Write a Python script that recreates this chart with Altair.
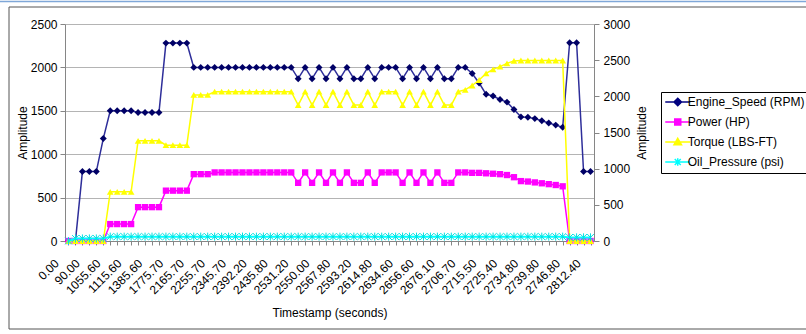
import json

import altair as alt
import pandas as pd

# Category labels shown on every third sample along the time axis
TIME_LABELS = [
    "0.00", "90.00", "1055.60", "1115.60", "1385.60", "1775.70", "2165.70",
    "2255.70", "2345.70", "2392.20", "2435.80", "2531.20", "2550.00", "2567.80",
    "2593.20", "2614.80", "2634.60", "2656.60", "2676.10", "2706.70", "2715.50",
    "2725.40", "2734.80", "2739.80", "2746.80", "2812.40",
]

H, L = 2000, 1870
ENGINE_SPEED = (
    [0, 0, 800, 800, 800, 1180, 1500, 1500, 1500, 1500, 1480, 1480, 1480, 1480,
     2280, 2280, 2280, 2280]
    + [2000] * 15
    + [L, H, L, H, L, H, L, H, L, L, H, L, H, H, H, L, H, L, H, L, H, L, L, H, H]
    + [1930, 1820, 1690, 1670, 1630, 1600, 1515, 1430, 1425, 1410, 1385, 1360,
       1335, 1310, 2285, 2285, 800, 800]
)

PH, PL = 790, 670
POWER = (
    [0] * 6 + [195] * 4 + [390] * 4 + [580] * 4 + [770] * 3 + [790] * 12
    + [PL, PH, PL, PH, PL, PH, PL, PH, PL, PL, PH, PL, PH, PH, PH, PL, PH, PL,
       PH, PL, PH, PL, PL, PH, PH]
    + [785, 785, 780, 775, 770, 760, 735, 690, 685, 675, 665, 655, 645, 630,
       0, 0, 0, 0]
)

TH, TL = 2065, 1880
TORQUE = (
    [0] * 6 + [680] * 4 + [1385] * 4 + [1325] * 4 + [2020] * 3 + [2065] * 12
    + [TL, TH, TL, TH, TL, TH, TL, TH, TL, TL, TH, TL, TH, TH, TH, TL, TH, TL,
       TH, TL, TH, TL, TL, TH, 2090]
    + [2150, 2226, 2318, 2373, 2410, 2456, 2490, 2495, 2495, 2495, 2495, 2495,
       2495, 2495, 0, 0, 0, 0]
)

OIL_PRESSURE = [0] + [35] * 5 + [60] * 66 + [50] * 4

SERIES = ["Engine_Speed (RPM)", "Power (HP)", "Torque (LBS-FT)", "Oil_Pressure (psi)"]
COLORS = ["#000080", "#ff00ff", "#ffff00", "#00ffff"]

# Legend glyphs: a short line with the series marker on it
LEGEND_GLYPHS = [
    "M-2.5,0H2.5M0,-0.75L0.75,0L0,0.75L-0.75,0Z",
    "M-2.5,0H2.5M-0.6,-0.6H0.6V0.6H-0.6Z",
    "M-2.5,0H2.5M0,-0.75L0.75,0.55H-0.75Z",
    "M-2.5,0H2.5M-0.6,-0.6L0.6,0.6M-0.6,0.6L0.6,-0.6M0,-0.75V0.75",
]
ASTERISK = "M-1,-1L1,1M-1,1L1,-1M0,-1.2V1.2"

FONT = "Liberation Sans"
AXIS_GREY = "#868686"

n = len(ENGINE_SPEED)
df = pd.DataFrame({
    "idx": list(range(n)),
    "engine": ENGINE_SPEED,
    "power": POWER,
    "torque": TORQUE,
    "oil": OIL_PRESSURE,
})

label_expr = (
    f"datum.value % 3 == 0 ? {json.dumps(TIME_LABELS)}[datum.value / 3] : ''"
)

x_enc = alt.X(
    "idx:Q",
    scale=alt.Scale(domain=[-0.5, n - 0.5], nice=False, zero=False),
    axis=alt.Axis(
        values=list(range(n)),
        labelExpr=label_expr,
        labelAngle=-45,
        labelAlign="right",
        labelBaseline="middle",
        labelOverlap=False,
        labelPadding=16,
        labelOffset=-12,
        tickSize=4,
        grid=False,
        title="Timestamp (seconds)",
        titlePadding=12,
    ),
)


def y_left(field):
    return alt.Y(
        f"{field}:Q",
        scale=alt.Scale(domain=[0, 2500], nice=False),
        axis=alt.Axis(
            values=[0, 500, 1000, 1500, 2000, 2500],
            format="d",
            title="Amplitude",
            grid=True,
            gridColor="#b4b4b4",
            tickSize=5,
            labelPadding=3,
            titlePadding=1,
        ),
    )


def y_right(field):
    return alt.Y(
        f"{field}:Q",
        scale=alt.Scale(domain=[0, 3000], nice=False),
        axis=alt.Axis(
            orient="right",
            values=[0, 500, 1000, 1500, 2000, 2500, 3000],
            format="d",
            title="Amplitude",
            titleAngle=270,
            titleBaseline="top",
            grid=False,
            tickSize=5,
            labelPadding=4,
            titlePadding=7,
        ),
    )


base = alt.Chart(df)

engine_line = base.mark_line(color="#2e2e9a", strokeWidth=1.5).encode(x=x_enc, y=y_left("engine"))
engine_pts = base.mark_point(shape="diamond", filled=True, size=48, color="#000066", opacity=1).encode(
    x=x_enc, y=y_left("engine"))
power_line = base.mark_line(color="#ff00ff", strokeWidth=1.5).encode(x=x_enc, y=y_left("power"))
power_pts = base.mark_point(shape="square", filled=True, size=40, color="#ff00ff", opacity=1).encode(
    x=x_enc, y=y_left("power"))

torque_line = base.mark_line(color="#ffff00", strokeWidth=1.5).encode(x=x_enc, y=y_right("torque"))
torque_pts = base.mark_point(shape="triangle-up", filled=True, size=45, color="#ffff00", opacity=1).encode(
    x=x_enc, y=y_right("torque"))
oil_line = base.mark_line(color="#00ffff", strokeWidth=2).encode(x=x_enc, y=y_right("oil"))
oil_pts = base.mark_point(shape=ASTERISK, filled=False, size=45, color="#00e0e0", strokeWidth=1,
                          opacity=1).encode(x=x_enc, y=y_right("oil"))

primary = alt.layer(engine_line, engine_pts, power_line, power_pts)
secondary = alt.layer(torque_line, torque_pts, oil_line, oil_pts)

legend_cfg = dict(
    orient="none",
    legendX=596,
    legendY=68,
    title=None,
    strokeColor="#000000",
    padding=4,
    symbolSize=100,
    symbolStrokeWidth=1.5,
    symbolOffset=6.75,
    labelOffset=4,
    labelFont=FONT,
    labelFontSize=12,
    labelLimit=300,
    rowPadding=7,
)
legend_df = pd.DataFrame({"series": SERIES})
legend_layer = (
    alt.Chart(legend_df)
    .mark_point(filled=False, strokeWidth=1.5, opacity=1)
    .encode(
        color=alt.Color("series:N", scale=alt.Scale(domain=SERIES, range=COLORS),
                        legend=alt.Legend(**legend_cfg)),
        fill=alt.Fill("series:N", scale=alt.Scale(domain=SERIES, range=COLORS),
                      legend=alt.Legend(**legend_cfg)),
        shape=alt.Shape("series:N", scale=alt.Scale(domain=SERIES, range=LEGEND_GLYPHS),
                        legend=alt.Legend(**legend_cfg)),
    )
    .transform_filter("false")
)

# Chart frame and the thin rule above it
frame = alt.Chart(pd.DataFrame({"k": [0]})).mark_rect(
    fill="transparent", stroke="#555555", strokeWidth=1
).encode(x=alt.value(-56), x2=alt.value(745), y=alt.value(-17), y2=alt.value(305))
top_rule = alt.Chart(pd.DataFrame({"k": [0]})).mark_rule(
    color="#7fa7d8", strokeWidth=1.5
).encode(x=alt.value(-65), x2=alt.value(741), y=alt.value(-22.5))

chart = (
    alt.layer(frame, top_rule, primary, secondary, legend_layer)
    .resolve_scale(y="independent", color="independent", fill="independent", shape="independent")
    .properties(
        width=529,
        height=217,
        autosize=alt.AutoSizeParams(type="none"),
        padding={"left": 65, "top": 24, "right": 212, "bottom": 93},
        background="#ffffff",
    )
    .configure_view(stroke=None)
    .configure_axis(
        labelFont=FONT,
        titleFont=FONT,
        labelFontSize=12,
        titleFontSize=12,
        labelColor="#000000",
        titleColor="#000000",
        titleFontWeight="normal",
        domainColor=AXIS_GREY,
        tickColor=AXIS_GREY,
    )
)

chart.save("out.html", embed_options={"renderer": "svg", "actions": False})
